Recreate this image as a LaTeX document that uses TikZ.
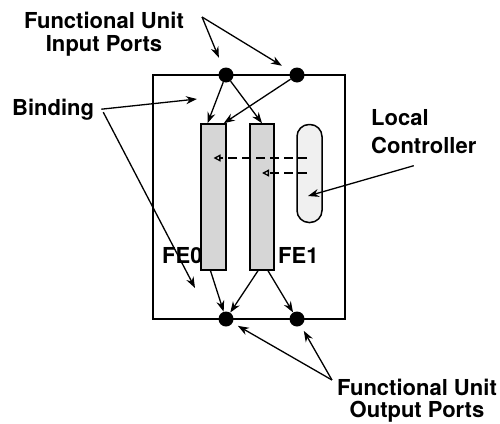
\documentclass[tikz,border=0pt]{standalone}
\usepackage{fontspec}
\setmainfont{TeX Gyre Heros}
\usetikzlibrary{arrows.meta, calc}

\begin{document}
\begin{tikzpicture}[x=1pt, y=-1pt,
    port/.style={circle, fill=black, inner sep=0pt, minimum size=15pt},
    unit/.style={draw, line width=1.5pt, fill=black!16, minimum width=25pt, minimum height=146pt, inner sep=0pt},
    lbl/.style={font=\fontsize{22}{23}\selectfont\bfseries, inner sep=0pt},
    wire/.style={-{Stealth[length=11pt, width=8pt]}, line width=1.3pt},
    ctrl/.style={-{Triangle[open, length=7pt, width=7pt]}, line width=1.3pt, dash pattern=on 9pt off 5pt}]
  \useasboundingbox (0,0) rectangle (500,423);
  % functional unit frame
  \draw[line width=1.6pt] (153,75) rectangle (345,319);
  \node[unit] (fe0) at (213.5,197) {};
  \node[unit, minimum width=24pt] (fe1) at (262,197) {};
  \node[draw, line width=1.5pt, fill=black!6, rounded corners=12pt, minimum width=25pt, minimum height=98pt] (lc) at (309.5,173.5) {};
  \foreach \n/\x/\y in {in0/226/75, in1/297/75, out0/226/319, out1/297/319}
    \node[port] (\n) at (\x,\y) {};
  % bindings
  \draw[wire] (in0) -- ($(fe0.north)+(-6,0)$);
  \draw[wire] (in0) -- (fe1.north);
  \draw[wire] (in1) -- ($(fe0.north east)+(-3,0)$);
  \draw[wire] ($(fe0.south)+(-3,0)$) -- (out0);
  \draw[wire] ($(fe1.south)+(-4,0)$) -- (out0);
  \draw[wire] ($(fe1.south)+(6,0)$) -- (out1);
  % controller signals
  \coordinate (d0) at (307,158);
  \coordinate (d1) at (307,173);
  \draw[ctrl] (d0) -- (d0 -| fe0);
  \draw[ctrl] (d1) -- (d1 -| fe1);
  % labels
  \node[lbl, align=center, anchor=north] (inlbl) at (104,12) {Functional Unit\\Input Ports};
  \node[lbl, anchor=base west] (bind) at (12,115) {Binding};
  \node[lbl, font=\fontsize{22}{28}\selectfont\bfseries, align=left, anchor=north west] (lcl) at (371,109) {Local\\Controller};
  \node[lbl, anchor=base west] (fe0l) at (162,263) {FE0};
  \node[lbl, anchor=base west] (fe1l) at (278,263) {FE1};
  \node[lbl, font=\fontsize{22}{22}\selectfont\bfseries, align=center, anchor=north] (outlbl) at (417,379) {Functional Unit\\Output Ports};
  \coordinate (b0) at (197,99);
  \coordinate (b1) at (195,288);
  \coordinate (lct) at (308,196);
  \draw[wire, shorten >=11pt] ($(inlbl.north east)+(18,5)$) -- (in0);
  \draw[wire, shorten >=10pt] ($(inlbl.north east)+(18,5)$) -- (in1);
  \draw[wire] ([xshift=7pt]bind.east) -- (b0);
  \draw[wire] ([xshift=9pt, yshift=-3pt]bind.east) -- (b1);
  \draw[wire] ($(lcl.south)+(-10,12)$) -- (lct);
  \draw[wire, shorten >=6pt] ($(outlbl.north west)+(-5,1)$) -- (out0);
  \draw[wire, shorten >=6pt] ($(outlbl.north west)+(-5,1)$) -- (out1);
\end{tikzpicture}
\end{document}
